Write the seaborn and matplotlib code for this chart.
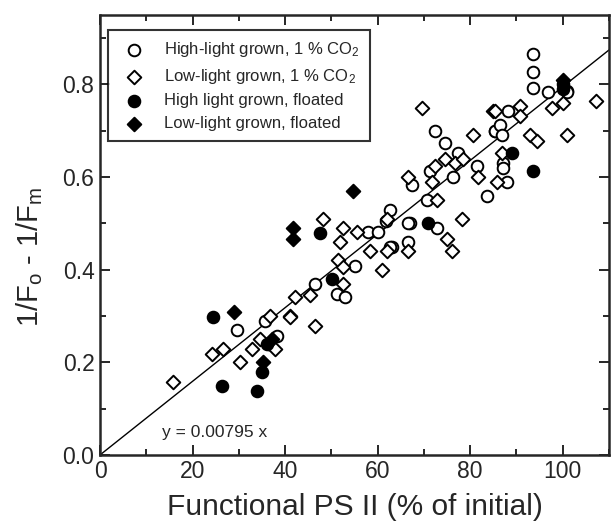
import matplotlib
matplotlib.use("Agg")
import matplotlib.pyplot as plt
from matplotlib.ticker import MultipleLocator, FormatStrFormatter
import pandas as pd
import seaborn as sns

# High-light grown, 1 % CO2 (open circles)
hl_co2_x = [29.6, 35.6, 38.2, 46.4, 51.2, 52.9, 55.0, 57.9, 60.0, 61.9, 62.6, 63.0,
            62.6, 66.5, 67.0, 67.4, 70.6, 71.3, 72.4, 72.8, 74.5, 76.2, 77.3, 81.4,
            83.6, 85.3, 85.3, 86.4, 86.8, 87.0, 87.0, 87.9, 88.1, 93.5, 93.5, 93.5,
            96.8, 100.9, 101.0, 36.5, 66.5]
hl_co2_y = [0.27, 0.29, 0.257, 0.37, 0.348, 0.341, 0.409, 0.482, 0.482, 0.505, 0.529, 0.45,
            0.45, 0.46, 0.50, 0.583, 0.55, 0.613, 0.70, 0.489, 0.674, 0.60, 0.652, 0.624,
            0.56, 0.70, 0.70, 0.713, 0.69, 0.63, 0.62, 0.59, 0.743, 0.865, 0.826, 0.793,
            0.783, 0.787, 0.783, 0.24, 0.50]

# Low-light grown, 1 % CO2 (open diamonds)
ll_co2_x = [15.8, 24.2, 26.6, 30.2, 32.8, 34.6, 36.7, 37.8, 41.0, 42.1, 45.4, 46.4,
            48.2, 51.4, 51.8, 52.5, 52.5, 52.5, 55.5, 58.3, 61.0, 62.0, 62.0, 66.5,
            66.5, 69.5, 71.7, 72.4, 72.8, 74.5, 74.9, 76.0, 76.7, 78.2, 78.4, 80.6,
            81.6, 84.9, 85.3, 85.7, 86.8, 90.7, 90.7, 92.9, 94.4, 97.6, 100.0, 101.0,
            107.3, 41.0]
ll_co2_y = [0.157, 0.217, 0.228, 0.20, 0.228, 0.25, 0.30, 0.228, 0.30, 0.34, 0.345, 0.278,
            0.51, 0.42, 0.46, 0.489, 0.406, 0.37, 0.482, 0.44, 0.40, 0.44, 0.51, 0.44,
            0.60, 0.75, 0.59, 0.623, 0.55, 0.64, 0.467, 0.44, 0.63, 0.51, 0.64, 0.69,
            0.60, 0.743, 0.743, 0.59, 0.652, 0.754, 0.733, 0.69, 0.678, 0.75, 0.76, 0.69,
            0.765, 0.298]

# High light grown, floated (filled circles)
hl_fl_x = [24.4, 26.3, 34.0, 35.0, 36.0, 47.5, 50.1, 70.8, 89.0, 93.5, 100.0, 100.0]
hl_fl_y = [0.298, 0.148, 0.137, 0.18, 0.24, 0.48, 0.38, 0.50, 0.652, 0.613, 0.80, 0.79]

# Low-light grown, floated (filled diamonds)
ll_fl_x = [28.9, 35.2, 37.2, 41.7, 41.7, 54.6, 100.0]
ll_fl_y = [0.309, 0.20, 0.25, 0.489, 0.467, 0.57, 0.81]

slope = 0.00795
fit_x = [0, 110]

labels = ["High-light grown, 1 % CO$_2$", "Low-light grown, 1 % CO$_2$",
          "High light grown, floated", "Low-light grown, floated"]

sns.set_style("ticks")
plt.rcParams["font.family"] = ["Liberation Sans", "DejaVu Sans"]
plt.rcParams["mathtext.default"] = "regular"

fig = plt.figure(figsize=(6.11, 5.29), dpi=100)
ax = fig.add_axes([0.1637, 0.14, 0.833, 0.8316])

groups = [
    (hl_co2_x, hl_co2_y, "o", "white", labels[0]),
    (ll_co2_x, ll_co2_y, "D", "white", labels[1]),
    (hl_fl_x, hl_fl_y, "o", "black", labels[2]),
    (ll_fl_x, ll_fl_y, "D", "black", labels[3]),
]
for gx, gy, mk, fc, lab in groups:
    df = pd.DataFrame({"x": gx, "y": gy})
    sz = 70 if mk == "o" else 48
    sns.scatterplot(data=df, x="x", y="y", marker=mk, s=sz, color=fc,
                    edgecolor="black", linewidth=1.4, ax=ax, label=lab, zorder=3)

# fitted line through origin
fit_df = pd.DataFrame({"x": fit_x, "y": [slope * v for v in fit_x]})
sns.lineplot(data=fit_df, x="x", y="y", color="black", linewidth=1.0, ax=ax,
             zorder=2, legend=False)

ax.text(13.5, 0.038, "y = 0.00795 x", fontsize=12.5)

ax.set_xlim(0, 110)
ax.set_ylim(0, 0.95)
ax.xaxis.set_major_locator(MultipleLocator(20))
ax.xaxis.set_minor_locator(MultipleLocator(10))
ax.yaxis.set_major_locator(MultipleLocator(0.2))
ax.yaxis.set_minor_locator(MultipleLocator(0.1))
ax.yaxis.set_major_formatter(FormatStrFormatter("%.1f"))
ax.tick_params(which="both", direction="in", top=True, right=True, width=1.4,
               labelsize=16.5, pad=4)
ax.tick_params(which="major", length=7)
ax.tick_params(which="minor", length=4)
for sp in ax.spines.values():
    sp.set_linewidth(1.8)

ax.set_xlabel("Functional PS II (% of initial)", fontsize=21.5, labelpad=7)
ax.set_ylabel("1/F$_o$ - 1/F$_m$", fontsize=21)
ax.yaxis.set_label_coords(-0.108, 0.45)

leg = ax.legend(loc="upper left", bbox_to_anchor=(0.015, 0.965), fontsize=12,
                frameon=True, fancybox=False, edgecolor="black", borderpad=0.6,
                handletextpad=0.8, labelspacing=0.45, borderaxespad=0)
leg.get_frame().set_linewidth(1.5)

fig.savefig("out.png", dpi=100)
